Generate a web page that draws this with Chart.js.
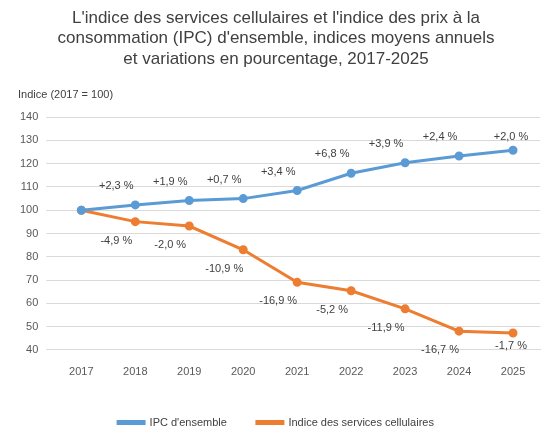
<!DOCTYPE html>
<html><head><meta charset="utf-8">
<script src="https://cdn.jsdelivr.net/npm/chart.js@4"></script>
<style>body{margin:0;background:#fff}#w{width:556px;height:444px}</style>
</head><body><div id="w"><canvas id="c"></canvas></div>
<script>
const years=['2017','2018','2019','2020','2021','2022','2023','2024','2025'];
const ipc=[100,102.3,104.2,105.0,108.5,115.9,120.4,123.3,125.8];
const cell=[100,95.1,93.2,83.0,69.0,65.4,57.6,48.0,47.2];
const ipcLabels=['','+2,3 %','+1,9 %','+0,7 %','+3,4 %','+6,8 %','+3,9 %','+2,4 %','+2,0 %'];
const cellLabels=['','-4,9 %','-2,0 %','-10,9 %','-16,9 %','-5,2 %','-11,9 %','-16,7 %','-1,7 %'];
const lblPlugin={id:'lbl',afterDatasetsDraw(ch){
  const c=ch.ctx;c.save();c.font='11px "Liberation Sans", Arial';c.fillStyle='#404040';c.textAlign='center';c.textBaseline='middle';
  [[0,ipcLabels,-1],[1,cellLabels,1]].forEach(([i,L,s])=>{
    ch.getDatasetMeta(i).data.forEach((p,k)=>{if(!L[k])return;
      const last=k===L.length-1;
      c.fillText(L[k],p.x-(last?2:19),p.y+s*(last?13:19));});
  });
  c.textAlign='left';c.fillText('Indice (2017 = 100)',18,95);
  c.restore();}};
new Chart(document.getElementById('c'),{type:'line',
data:{labels:years,datasets:[
{label:"IPC d'ensemble",data:ipc,borderColor:'#5B9BD5',backgroundColor:'#5B9BD5',borderWidth:3,pointRadius:3,pointBackgroundColor:'#5B9BD5'},
{label:'Indice des services cellulaires',data:cell,borderColor:'#ED7D31',backgroundColor:'#ED7D31',borderWidth:3,pointRadius:3,pointBackgroundColor:'#ED7D31'}]},
options:{responsive:true,maintainAspectRatio:false,animation:false,
layout:{padding:{left:12,right:16,top:0,bottom:6}},
plugins:{title:{display:true,text:["L'indice des services cellulaires et l'indice des prix à la","consommation (IPC) d'ensemble, indices moyens annuels","et variations en pourcentage, 2017-2025"],color:'#404040',font:{size:17,family:'"Liberation Sans", Arial',weight:'normal'},padding:{top:8,bottom:48}},
legend:{position:'bottom',labels:{boxWidth:26,boxHeight:2,color:'#404040',font:{size:11},padding:30}},tooltip:{enabled:false}},
scales:{x:{offset:true,grid:{display:false},border:{color:'#d9d9d9'},ticks:{color:'#595959',font:{size:11},padding:8}},
y:{min:40,max:140,ticks:{stepSize:10,color:'#595959',font:{size:11},padding:8},grid:{color:'#d9d9d9'},border:{display:false}}}},
plugins:[lblPlugin]});
</script></body></html>
